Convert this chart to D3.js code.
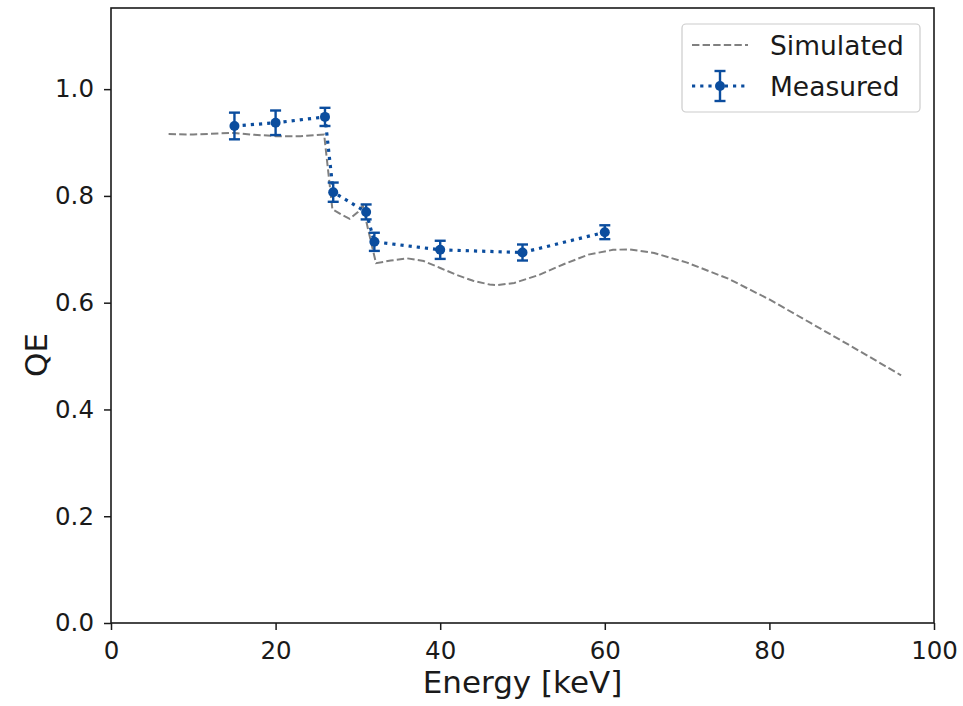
<!DOCTYPE html>
<html>
<head>
<meta charset="utf-8">
<script src="https://cdn.jsdelivr.net/npm/d3@7"></script>
<style>
  body { margin: 0; background: #fff; }
  text { font-family: "DejaVu Sans", sans-serif; fill: #1a1a1a; }
</style>
</head>
<body>
<svg id="chart" width="963" height="706"></svg>
<script>
// simulated QE curve
const simEnergy = [7, 10, 13, 15, 17, 20, 23, 25.9, 26.9, 28, 29, 30, 30.6, 31.2, 32.2, 34, 36, 38, 40, 42, 44, 46, 47, 49, 52, 55, 58, 61, 63, 66, 70, 75, 80, 85, 90, 96]
const simQE = [0.916, 0.915, 0.917, 0.918, 0.915, 0.912, 0.912, 0.915, 0.775, 0.765, 0.757, 0.770, 0.782, 0.74, 0.674, 0.679, 0.683, 0.678, 0.665, 0.652, 0.641, 0.634, 0.633, 0.637, 0.652, 0.672, 0.690, 0.699, 0.700, 0.693, 0.675, 0.645, 0.606, 0.562, 0.518, 0.464]

// measured points with error
const measEnergy = [15, 20, 26, 27, 31, 32, 40, 50, 60]
const measQE = [0.931, 0.937, 0.948, 0.807, 0.770, 0.714, 0.699, 0.694, 0.732]
const measErr = [0.025, 0.023, 0.017, 0.018, 0.014, 0.017, 0.017, 0.015, 0.013]

const xTicks = [0, 20, 40, 60, 80, 100]
const yTicks = [0, 0.2, 0.4, 0.6, 0.8, 1.0]

const blue = "#0b4d9e"
const grey = "#808080"

const margin = { left: 111, right: 29, top: 8, bottom: 83 }
const W = 963, H = 706
const svg = d3.select("#chart")

const x = d3.scaleLinear().domain([0, 100]).range([margin.left, W - margin.right])
const y = d3.scaleLinear().domain([0, 1.152]).range([H - margin.bottom, margin.top])

// axes
const xAxis = svg.append("g")
  .attr("transform", `translate(0,${H - margin.bottom})`)
  .call(d3.axisBottom(x).tickValues(xTicks).tickSize(7).tickPadding(12).tickFormat(d3.format("d")))
const yAxis = svg.append("g")
  .attr("transform", `translate(${margin.left},0)`)
  .call(d3.axisLeft(y).tickValues(yTicks).tickSize(7).tickPadding(10).tickFormat(d3.format(".1f")))

for (const g of [xAxis, yAxis]) {
  g.select(".domain").remove()
  g.selectAll(".tick line").attr("stroke", "#1a1a1a").attr("stroke-width", 1.5)
  g.selectAll(".tick text").attr("font-size", 24.5).attr("fill", "#1a1a1a")
    .style("font-family", "DejaVu Sans, sans-serif")
}

// frame
svg.append("rect")
  .attr("x", x(0)).attr("y", y(1.152))
  .attr("width", x(100) - x(0)).attr("height", y(0) - y(1.152))
  .attr("fill", "none").attr("stroke", "#1a1a1a").attr("stroke-width", 1.6)

// axis labels
svg.append("text")
  .attr("x", (x(0) + x(100)) / 2).attr("y", 693)
  .attr("text-anchor", "middle").attr("font-size", 31)
  .text("Energy [keV]")
svg.append("text")
  .attr("transform", "translate(47,355) rotate(-90)")
  .attr("text-anchor", "middle").attr("font-size", 31)
  .text("QE")

// simulated line
const simData = simEnergy.map((e, i) => [e, simQE[i]])
svg.append("path")
  .datum(simData)
  .attr("d", d3.line().x(d => x(d[0])).y(d => y(d[1])))
  .attr("fill", "none").attr("stroke", grey).attr("stroke-width", 2)
  .attr("stroke-dasharray", "7.4,3.2")

// measured
const measData = measEnergy.map((e, i) => ({ e: e, q: measQE[i], err: measErr[i] }))
svg.append("path")
  .datum(measData)
  .attr("d", d3.line().x(d => x(d.e)).y(d => y(d.q)))
  .attr("fill", "none").attr("stroke", blue).attr("stroke-width", 3.2)
  .attr("stroke-dasharray", "3.2,5")

const eb = svg.append("g").selectAll("g").data(measData).enter().append("g")
eb.append("line")
  .attr("x1", d => x(d.e)).attr("x2", d => x(d.e))
  .attr("y1", d => y(d.q - d.err)).attr("y2", d => y(d.q + d.err))
  .attr("stroke", blue).attr("stroke-width", 2.4)
eb.selectAll(".cap").data(d => [[d.e, d.q - d.err], [d.e, d.q + d.err]]).enter().append("line")
  .attr("x1", d => x(d[0]) - 5.5).attr("x2", d => x(d[0]) + 5.5)
  .attr("y1", d => y(d[1])).attr("y2", d => y(d[1]))
  .attr("stroke", blue).attr("stroke-width", 2.4)
eb.append("circle")
  .attr("cx", d => x(d.e)).attr("cy", d => y(d.q)).attr("r", 5)
  .attr("fill", blue)

// legend
const lg = svg.append("g")
lg.append("rect")
  .attr("x", 682).attr("y", 24).attr("width", 238).attr("height", 88).attr("rx", 4)
  .attr("fill", "#fff").attr("fill-opacity", 0.8).attr("stroke", "#ccc").attr("stroke-width", 1.2)
lg.append("line")
  .attr("x1", 692).attr("x2", 748).attr("y1", 45).attr("y2", 45)
  .attr("stroke", grey).attr("stroke-width", 2).attr("stroke-dasharray", "7.4,3.2")
lg.append("text").attr("x", 770).attr("y", 54.5).attr("font-size", 26.5).text("Simulated")
lg.append("line")
  .attr("x1", 692).attr("x2", 748).attr("y1", 86).attr("y2", 86)
  .attr("stroke", blue).attr("stroke-width", 3.2).attr("stroke-dasharray", "3.2,5")
lg.append("line")
  .attr("x1", 720).attr("x2", 720).attr("y1", 71).attr("y2", 101)
  .attr("stroke", blue).attr("stroke-width", 2.4)
lg.selectAll(".c").data([71, 101]).enter().append("line")
  .attr("x1", 714.5).attr("x2", 725.5).attr("y1", d => d).attr("y2", d => d)
  .attr("stroke", blue).attr("stroke-width", 2.4)
lg.append("circle").attr("cx", 720).attr("cy", 86).attr("r", 5).attr("fill", blue)
lg.append("text").attr("x", 770).attr("y", 95.5).attr("font-size", 26.5).text("Measured")
</script>
</body>
</html>
